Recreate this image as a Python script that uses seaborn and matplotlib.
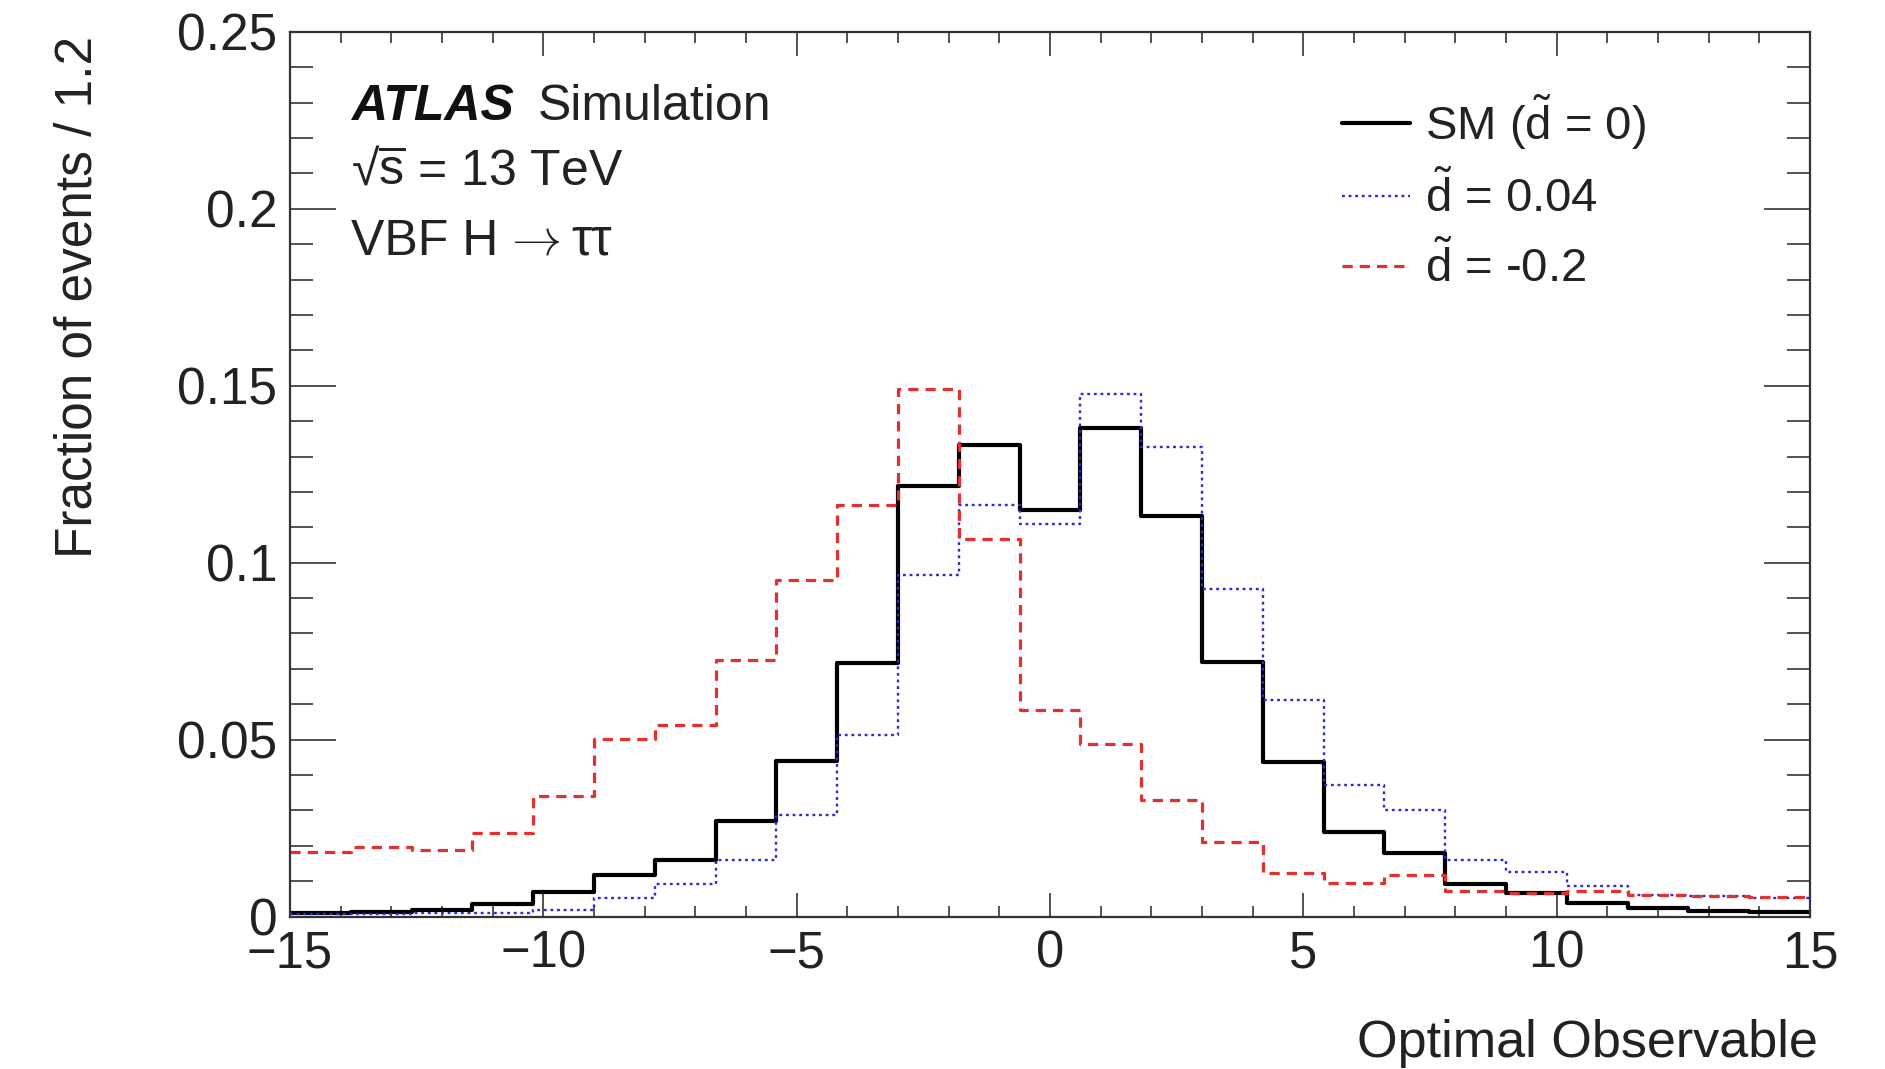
import numpy as np
import pandas as pd
import matplotlib
matplotlib.use("Agg")
import matplotlib.pyplot as plt
from matplotlib.ticker import MultipleLocator, FuncFormatter
import seaborn as sns

# ---- data -------------------------------------------------------------
x_min, x_max, bin_width = -15, 15, 1.2      # 25 bins of width 1.2
sm_values = [0.0010, 0.0012, 0.0020, 0.0036, 0.0070, 0.0117, 0.0160, 0.0270,
             0.0440, 0.0717, 0.1216, 0.1332, 0.1150, 0.1380, 0.1133, 0.0720,
             0.0436, 0.0240, 0.0181, 0.0092, 0.0066, 0.0040, 0.0025, 0.0017,
             0.0012]
d004_values = [0.0008, 0.0008, 0.0009, 0.0010, 0.0020, 0.0054, 0.0092, 0.0159,
               0.0286, 0.0513, 0.0964, 0.1163, 0.1110, 0.1476, 0.1326, 0.0927,
               0.0612, 0.0371, 0.0300, 0.0159, 0.0126, 0.0086, 0.0062, 0.0057,
               0.0052]
dm02_values = [0.0183, 0.0196, 0.0188, 0.0235, 0.0342, 0.0502, 0.0542, 0.0725,
               0.0952, 0.1163, 0.1490, 0.1068, 0.0584, 0.0487, 0.0329, 0.0212,
               0.0122, 0.0096, 0.0117, 0.0072, 0.0066, 0.0072, 0.0062, 0.0058,
               0.0055]
series_labels = [r"SM ($\tilde{\mathrm{d}}$ = 0)",
                 r"$\tilde{\mathrm{d}}$ = 0.04",
                 r"$\tilde{\mathrm{d}}$ = -0.2"]
x_ticks = [-15, -10, -5, 0, 5, 10, 15]
y_ticks = [0, 0.05, 0.1, 0.15, 0.2, 0.25]

n_bins = len(sm_values)
centers = x_min + bin_width * (np.arange(n_bins) + 0.5)
df = pd.DataFrame({
    "x": np.tile(centers, 3),
    "w": np.concatenate([sm_values, d004_values, dm02_values]),
    "series": np.repeat(series_labels, n_bins),
})

# ---- style ------------------------------------------------------------
sns.set_style("ticks")
plt.rcParams["font.family"] = ["Liberation Sans", "DejaVu Sans"]
plt.rcParams["mathtext.fontset"] = "custom"
plt.rcParams["mathtext.rm"] = "Liberation Sans"
plt.rcParams["mathtext.it"] = "Liberation Sans:italic"
plt.rcParams["mathtext.bf"] = "Liberation Sans:bold"

W, H = 1885, 1069
fig = plt.figure(figsize=(W / 100, H / 100), dpi=100)
ax = fig.add_axes([0.1538, 0.1425, 0.9602 - 0.1538, 0.9703 - 0.1425])

styles = [
    dict(color="black", linewidth=3.0, linestyle="-"),
    dict(color="#2b2bd6", linewidth=1.7, linestyle=(0, (1.2, 1.6))),
    dict(color="#e4302c", linewidth=2.3, linestyle=(0, (3.2, 2.2))),
]
handles = []
for lab, st in zip(series_labels, styles):
    n_before = len(ax.lines)
    sns.histplot(data=df[df["series"] == lab], x="x", weights="w",
                 binwidth=bin_width, binrange=(x_min, x_max),
                 element="step", fill=False, ax=ax, **st)
    line = ax.lines[n_before]
    line.set_label(lab)
    handles.append(line)

ax.set_xlim(x_min, x_max)
ax.set_ylim(0, 0.25)
ax.set_xlabel("")
ax.set_ylabel("")
ax.set_xticks(x_ticks)
ax.set_yticks(y_ticks)
ax.xaxis.set_minor_locator(MultipleLocator(1))
ax.yaxis.set_minor_locator(MultipleLocator(0.01))
ax.yaxis.set_major_formatter(FuncFormatter(lambda v, p: "%g" % v))

for s in ax.spines.values():
    s.set_visible(True)
    s.set_linewidth(1.6)
    s.set_color("#333333")

ax.tick_params(axis="x", which="major", direction="in", top=True, bottom=True,
               length=17, width=1.1, labelsize=36.5, pad=9, colors="#222222")
ax.tick_params(axis="x", which="minor", direction="in", top=True, bottom=True,
               length=8, width=1.1)
ax.tick_params(axis="y", which="major", direction="in", left=True, right=True,
               length=33, width=1.1, labelsize=37, pad=9, colors="#222222")
ax.tick_params(axis="y", which="minor", direction="in", left=True, right=True,
               length=16.5, width=1.1)

# axis titles
fig.text(78 / W, 1 - 36 / H, "Fraction of events / 1.2", rotation=90,
         ha="center", va="top", fontsize=37, color="#222222")
fig.text(1818 / W, 1 - 1057 / H, "Optimal Observable", ha="right",
         va="baseline", fontsize=37.5, color="#222222")

# ATLAS label
tc = "#222222"
fig.text(351 / W, 1 - 120 / H, "ATLAS", fontsize=36, fontweight="bold",
         fontstyle="italic", va="baseline", ha="left", color="#111111")
fig.text(538 / W, 1 - 120 / H, "Simulation", fontsize=36,
         va="baseline", ha="left", color=tc)
fig.text(351 / W, 1 - 185 / H, "\u221a" + r"$\overline{\mathrm{s}}$ = 13 TeV",
         fontsize=36, va="baseline", ha="left", color=tc)
fig.text(351 / W, 1 - 255 / H, "VBF H",
         fontsize=36, va="baseline", ha="left", color=tc)
fig.text(503 / W, 1 - 255 / H, r"$\rightarrow$", math_fontfamily="cm",
         fontsize=36, va="baseline", ha="left", color=tc)
fig.text(571 / W, 1 - 255 / H, "\u03c4\u03c4",
         fontsize=37, va="baseline", ha="left", color=tc)

leg = ax.legend(handles=handles, labels=series_labels, loc="upper left",
                bbox_to_anchor=(1342 / W, 1 - 92 / H),
                bbox_transform=fig.transFigure, frameon=False, fontsize=34,
                handlelength=1.44, handletextpad=0.32, labelspacing=0.43,
                borderpad=0, borderaxespad=0)
for t in leg.get_texts():
    t.set_color(tc)

fig.savefig("out.png", dpi=100)
